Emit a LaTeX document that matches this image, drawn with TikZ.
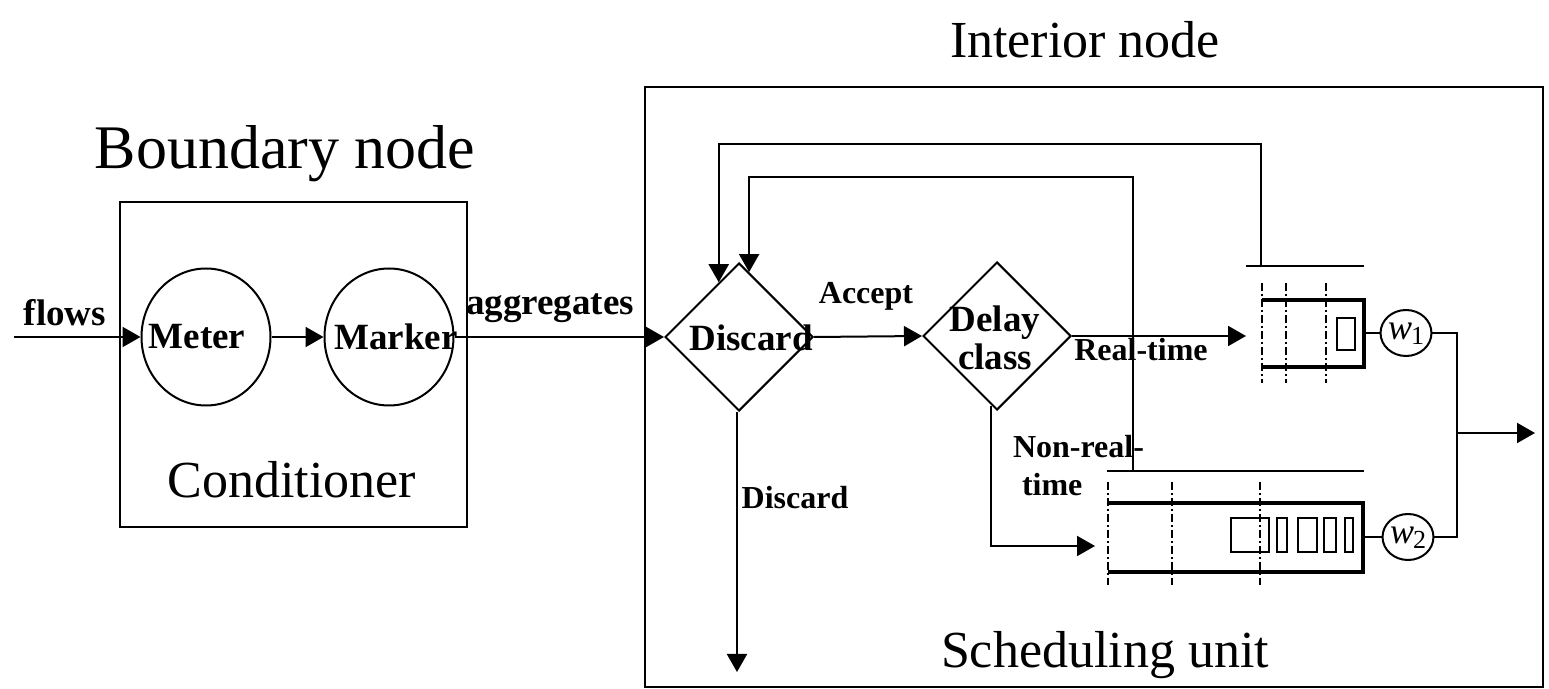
\documentclass[tikz,border=0pt]{standalone}
\usepackage{fontspec}
\setmainfont{Liberation Serif}
\usetikzlibrary{shapes.geometric,arrows.meta,calc}

\begin{document}
\begin{tikzpicture}[x=0.5pt,y=-0.5pt,
  line width=1pt,
  arr/.style={-{Triangle[length=9pt,width=10pt]}},
  boxframe/.style={draw,line width=1pt},
  title/.style={font=\fontsize{26}{30}\selectfont,inner sep=0},
  bigtitle/.style={font=\fontsize{31}{36}\selectfont,inner sep=0},
  blbl/.style={font=\fontsize{18.5}{22}\selectfont\bfseries,inner sep=0},
  slbl/.style={font=\fontsize{16}{19}\selectfont\bfseries,inner sep=0},
  oval/.style={draw,ellipse,inner sep=0,minimum width=64.5pt,minimum height=68.5pt},
  dia/.style={draw,diamond,inner sep=0,minimum width=74pt,minimum height=74pt},
  wgt/.style={draw,ellipse,inner sep=0,minimum width=18pt,minimum height=23pt,
              text height=7pt,text depth=0pt,font=\fontsize{18}{20}\selectfont},
  qwall/.style={line width=1.6pt},
  qdash/.style={line width=1pt,dash pattern=on 4pt off 1.5pt on 1pt off 1.5pt},
  qcell/.style={draw,line width=0.9pt}
]
\useasboundingbox (0,0) rectangle (1549,689);

% ---------- titles ----------
\node[title]    (tint)  at (1085,40)  {Interior node};
\node[bigtitle] (tbnd)  at (285,154)  {Boundary node};
\node[title]    (tcond) at (292,480)  {Conditioner};
\node[title]    (tsch)  at (1105,655) {Scheduling unit};

% ---------- enclosing boxes ----------
\draw[boxframe] (120,202) rectangle (467,527);
\draw[boxframe] (645,87) rectangle (1543,687);

% ---------- conditioner ----------
\node[oval] (meter)  at (206,337) {};
\node[oval] (marker) at (389,337) {};
\node[blbl] (meterlbl)  at ($(meter)+(-9,0)$)  {Meter};
\node[blbl] (markerlbl) at ($(marker)+(7,0)$)  {Marker};

% ---------- decisions ----------
\node[dia] (disc) at (739,337) {};
\node[dia] (dly)  at (997,336) {};
\node[blbl] (disclbl) at ($(disc)+(12,1)$) {Discard};
\node[blbl,align=center] (dlylbl) at ($(dly)+(-2,2)$) {Delay\\[-3pt]class};

% ---------- real-time queue ----------
\coordinate (q1in) at (1246,336);
\coordinate (q1fb) at (1261,266);
\draw (1246,266) -- (1364,266);
\foreach \x in {1262,1286,1326} \draw[qdash] (\x,283) -- (\x,383);
\draw[qwall] (1262,300) -- (1364,300) -- (1364,367) -- (1262,367);
\draw[qcell] (1337,318) rectangle (1355,350);
\node[wgt] (w1) at (1406,333) {\textit{w}\kern-0.5pt\raisebox{-0.3ex}{\fontsize{13}{14}\selectfont 1}};

% ---------- non-real-time queue ----------
\coordinate (q2in) at (1095,546);
\coordinate (q2fb) at (1133,471);
\draw (1107,471) -- (1364,471);
\foreach \x in {1108,1172,1260} \draw[qdash] (\x,482) -- (\x,585);
\draw[qwall] (1108,503) -- (1363,503) -- (1363,572) -- (1108,572);
\foreach \a/\b in {1231/1269,1277/1287,1298/1317,1324/1336,1345/1353}
  \draw[qcell] (\a,518) rectangle (\b,552);
\node[wgt] (w2) at (1408,537) {\textit{w}\kern-0.5pt\raisebox{-0.3ex}{\fontsize{13}{14}\selectfont 2}};

% ---------- output merge ----------
\coordinate (mtop) at (1457,333);
\coordinate (mbot) at (1457,537);
\coordinate (mmid) at (1457,433);
\coordinate (outend) at (1535,433);
\draw (1364,333) -- (w1.west);
\draw (1363,537) -- (w2.west);
\draw (w1.east) -- (mtop) -- (mbot) -- (w2.east);
\draw[arr] (mmid) -- (outend);

% ---------- main flow ----------
\coordinate (src) at (14,337);
\coordinate (dropend) at (737,672);
\coordinate (nrtdrop) at (991,406);
\draw[arr] (src) -- (meter.west);
\draw[arr] (meter.east) -- (marker.west);
\draw[arr] (marker.east) -- (disc.west);
\draw[arr] (disc.east) -- (dly.west);
\draw[arr] (dly.east) -- (q1in);
\draw[arr] (nrtdrop) |- (q2in);
\draw[arr] (disc.south -| dropend) -- (dropend);

% ---------- feedback from the queues ----------
\coordinate (outhit) at ($(disc.north)!0.27!(disc.west)$);
\coordinate (inhit)  at ($(disc.north)!0.135!(disc.east)$);
\draw[arr] (q1fb) -- ++(0,-122) -| (outhit);
\draw[arr] (q2fb) -- ++(0,-294) -| (inhit);

% ---------- edge labels ----------
\node[blbl] (lflows) at (65,313)  {flows};
\node[blbl] (lagg)   at (550,308) {aggregates};
\node[slbl] (lacc)   at (866,296) {Accept};
\node[slbl] (lrt)    at (1141,350) {Real-time};
\node[slbl,anchor=west,align=left] (lnrt) at (1012,466) {Non-real-\\\hspace*{4.5pt}time};
\node[slbl] (ldrop)  at (795,498) {Discard};

\end{tikzpicture}
\end{document}
